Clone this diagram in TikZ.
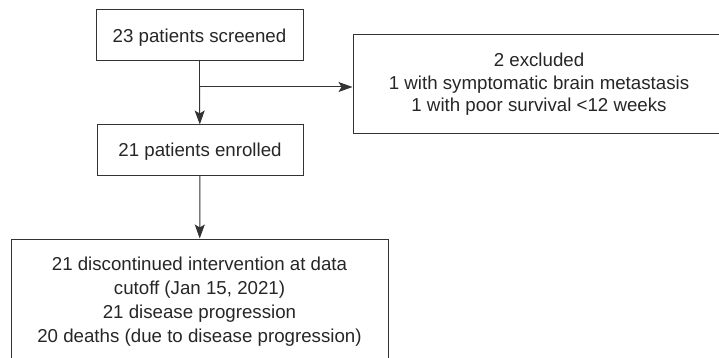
\documentclass[tikz,border=0pt]{standalone}
\usepackage{fontspec}
\setmainfont{Liberation Sans}
\usetikzlibrary{arrows.meta}

\begin{document}
\begin{tikzpicture}
  [x=1pt,y=-1pt,
   box/.style={draw=black!80,line width=1pt,align=center,inner sep=0pt,text=black!85,
               font=\fontsize{18.7}{22.5}\selectfont},
   flow/.style={draw=black!80,line width=1pt,-{Stealth[length=14pt,width=10pt,inset=3pt]}}]
  \useasboundingbox (0,0) rectangle (719,358);
  \clip (0,0) rectangle (719,358);
  \node[box,text depth=0pt,minimum width=207pt,minimum height=51pt] (screen) at (199.5,35.5) {23 patients screened};
  \node[box,minimum width=372pt,minimum height=99pt] (excl) at (539,84.5)
    {2 excluded\\1 with symptomatic brain metastasis\\1 with poor survival <12 weeks};
  \node[box,text depth=0pt,minimum width=206pt,minimum height=50pt] (enrol) at (200,150) {21 patients enrolled};
  \node[box,minimum width=377pt,minimum height=126pt,font=\fontsize{18.7}{24}\selectfont] (disc) at (199.5,302)
    {21 discontinued intervention at data\\cutoff (Jan 15, 2021)\\21 disease progression\\20 deaths (due to disease progression)};

  \coordinate (split) at (screen.south |- 0,87);
  \draw[flow,-] (screen) -- (split);
  \draw[flow] (split) -- (enrol);
  \draw[flow] (split) -- (split -| excl.west);
  \draw[flow] (enrol) -- (disc);
\end{tikzpicture}
\end{document}
